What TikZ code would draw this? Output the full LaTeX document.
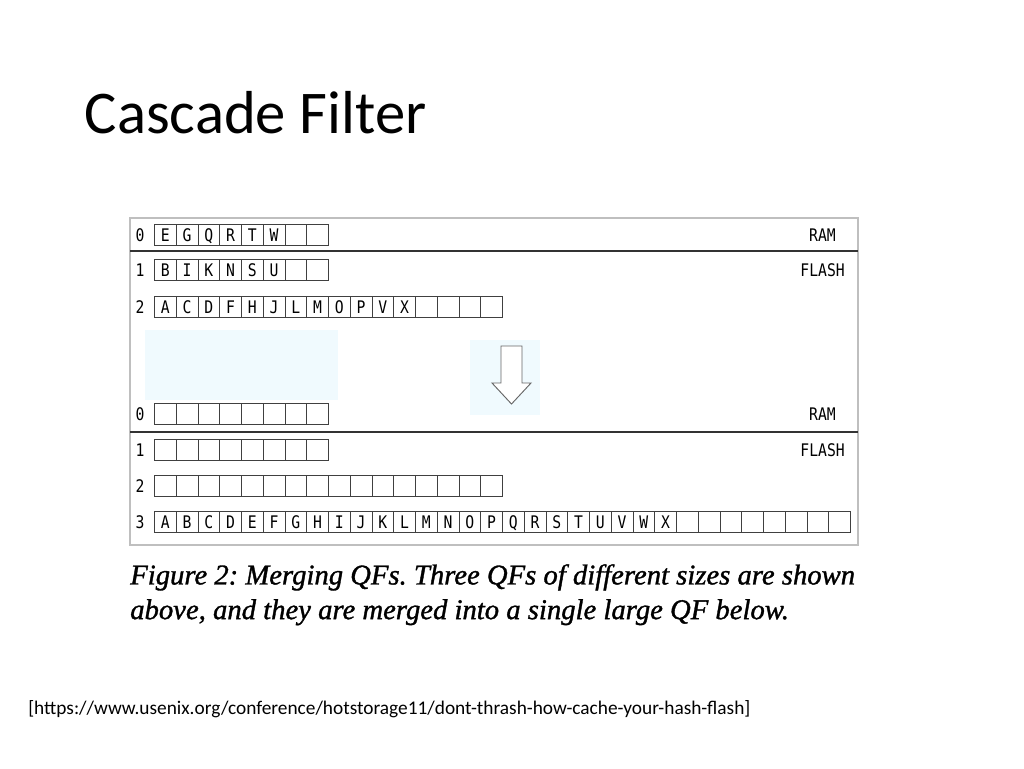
\documentclass[tikz,border=0pt]{standalone}
\usepackage{fontspec}
\setmainfont{Carlito}
\newfontfamily\capfont[FakeBold=1.2]{Liberation Serif}
\newfontfamily\monofont[FakeStretch=0.85]{DejaVu Sans Mono}
\begin{document}
\begin{tikzpicture}[x=0.75pt,y=-0.75pt,
  cell/.style={draw=black!75,line width=0.6pt,fill=white,minimum width=21.75*0.75pt,minimum height=21*0.75pt,inner sep=0pt,anchor=west,text height=9pt,text depth=0pt,font=\monofont\fontsize{13}{14}\selectfont},
  lab/.style={font=\monofont\fontsize{13}{14}\selectfont,inner sep=0pt},
  glow/.style={fill=cyan!6,draw=none}]
\useasboundingbox (0,0) rectangle (1024,768);
\node[anchor=west,font=\fontsize{45.5}{50}\selectfont] (title) at (80,113) {Cascade Filter};
\draw[draw=black!25,line width=0.8pt] (130,218) rectangle (858,545);
\fill[glow] (145,330) rectangle (338,400);
\fill[glow] (470,340) rectangle (540,415);
\draw[black!80,line width=1.2pt] (130,251) -- (858,251);
\draw[black!80,line width=1.2pt] (130,432) -- (858,432);
\def\row#1#2#3{%
  \foreach \t [count=\i from 0] in {#3} {
    \node[cell] (#1c\i) at ({154+21.75*\i},#2) {\t};
  }
}
\node[lab] (l0) at (140,235) {0};
\row{a}{235}{E,G,Q,R,T,W,{},{}}
\node[lab] (l1) at (140,270) {1};
\row{b}{270}{B,I,K,N,S,U,{},{}}
\node[lab] (l2) at (140,307) {2};
\row{c}{307}{A,C,D,F,H,J,L,M,O,P,V,X,{},{},{},{}}
\node[lab] (m0) at (140,414) {0};
\row{d}{414}{{},{},{},{},{},{},{},{}}
\node[lab] (m1) at (140,450) {1};
\row{e}{450}{{},{},{},{},{},{},{},{}}
\node[lab] (m2) at (140,486) {2};
\row{f}{486}{{},{},{},{},{},{},{},{},{},{},{},{},{},{},{},{}}
\node[lab] (m3) at (140,522) {3};
\row{g}{522}{A,B,C,D,E,F,G,H,I,J,K,L,M,N,O,P,Q,R,S,T,U,V,W,X,{},{},{},{},{},{},{},{}}
\node[lab,anchor=east] (r1) at (836,235) {RAM};
\node[lab,anchor=east] (f1) at (845,270) {FLASH};
\node[lab,anchor=east] (r2) at (836,414) {RAM};
\node[lab,anchor=east] (f2) at (845,450) {FLASH};
\draw[black!60,fill=white,line width=0.7pt] (501,346) -- (522,346) -- (522,383) -- (531,383) -- (511.5,404) -- (492,383) -- (501,383) -- cycle;
\node[anchor=north west,align=left,inner sep=0pt,font=\capfont\itshape\frenchspacing\fontsize{21.5}{26}\selectfont] (cap) at (130,564) {Figure 2: Merging QFs. Three QFs of different sizes are shown\\above, and they are merged into a single large QF below.};
\node[anchor=west,inner sep=0pt,font=\fontsize{14.5}{17}\selectfont] (url) at (28,709) {[https://www.usenix.org/conference/hotstorage11/dont-thrash-how-cache-your-hash-flash]};
\end{tikzpicture}
\end{document}
